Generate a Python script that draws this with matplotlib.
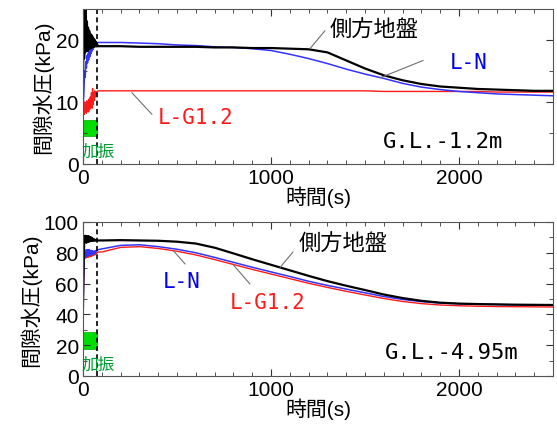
import numpy as np
import matplotlib
matplotlib.use('Agg')
import matplotlib.pyplot as plt
from matplotlib.ticker import MultipleLocator

plt.rcParams['font.family'] = ['Liberation Sans', 'Noto Sans CJK JP']

# time axis (s): shaking phase and dissipation phase
t_shake = [0, 3, 6, 9, 12, 15, 18, 21, 24, 27, 30, 33, 36, 39, 42, 45, 48,
           51, 54, 57, 60, 63, 66, 69, 72, 75, 80]
t_long = [100, 200, 300, 400, 500, 600, 700, 800, 900, 1000, 1100, 1200,
          1300, 1400, 1500, 1600, 1700, 1800, 1900, 2000, 2100, 2200, 2300,
          2400, 2500]

# G.L.-1.2m  pore water pressure (kPa)
up_side_shake = [11, 26, 17, 27, 18, 25, 18.5, 23, 18.2, 22, 18.5, 21.5, 18.6,
                 21, 18.7, 20.8, 18.8, 20.5, 18.9, 20.2, 18.9, 20, 19, 19.7,
                 19, 19.3, 19.0]
up_side_long = [19.0, 19.0, 18.9, 18.9, 18.9, 18.9, 18.8, 18.8, 18.7, 18.7,
                18.6, 18.5, 18.0, 16.7, 15.4, 14.3, 13.5, 12.9, 12.5, 12.3,
                12.1, 12.0, 11.9, 11.8, 11.8]
up_ln_shake = [8, 10.5, 13, 15, 14, 16.5, 15.5, 17.5, 16.3, 17.8, 16.8, 18.2,
               17.3, 18.5, 17.8, 18.8, 18.2, 19.0, 18.5, 19.2, 18.8, 19.3,
               19.1, 19.5, 19.3, 19.5, 19.6]
up_ln_long = [19.6, 19.6, 19.5, 19.4, 19.2, 19.1, 18.9, 18.8, 18.6, 18.3,
              17.7, 17.0, 16.2, 15.3, 14.5, 13.8, 13.0, 12.4, 12.0, 11.7,
              11.5, 11.3, 11.2, 11.1, 11.0]
up_lg_shake = [8.5, 9.5, 8, 10, 8.3, 9.6, 8.2, 10.2, 8.5, 9.8, 8.4, 10.5, 8.8,
               10.8, 9.2, 11.5, 9, 12.2, 9.6, 11.5, 10.2, 11.8, 10.8, 11.6,
               11.3, 11.7, 11.8]
up_lg_long = [11.8, 11.8, 11.8, 11.8, 11.8, 11.8, 11.8, 11.8, 11.8, 11.8,
              11.8, 11.8, 11.8, 11.8, 11.8, 11.7, 11.7, 11.7, 11.7, 11.7,
              11.7, 11.6, 11.6, 11.6, 11.6]

# G.L.-4.95m  pore water pressure (kPa)
lo_side_shake = [45, 70, 86, 91, 87, 91, 86.5, 90.5, 87, 90.8, 87.2, 90.5,
                 87.5, 90.2, 87.6, 89.8, 87.8, 89.2, 87.9, 88.8, 87.9, 88.5,
                 88, 88.3, 88, 88.1, 88]
lo_side_long = [88.0, 88.2, 88.0, 87.8, 87.2, 86.0, 83.3, 79.6, 75.8, 72.2,
                68.6, 65.0, 61.6, 58.6, 55.8, 52.9, 50.6, 48.8, 47.6, 47.0,
                46.7, 46.5, 46.3, 46.2, 46.1]
lo_ln_shake = [40, 62, 78, 82, 77, 81.5, 77.5, 82, 78, 81.8, 78.2, 82, 78.5,
               81.5, 78.6, 81.5, 79, 81.2, 79.2, 81, 79.5, 81.2, 80, 81.5, 81,
               81.8, 82]
lo_ln_long = [82.5, 84.8, 85.2, 84.0, 82.3, 80.0, 77.0, 73.8, 70.6, 67.6,
              64.6, 61.5, 58.8, 56.4, 54.0, 51.6, 49.7, 48.3, 47.4, 46.9,
              46.6, 46.4, 46.2, 46.1, 46.0]
lo_lg_shake = [42, 60, 76, 80, 76.5, 79.5, 76.8, 80, 77, 79.8, 77.2, 79.6,
               77.4, 79.5, 77.6, 79.4, 78, 79.5, 78.2, 79.4, 78.5, 79.6, 79,
               79.8, 79.6, 80.2, 80.5]
lo_lg_long = [80.5, 83.5, 84.0, 82.8, 81.0, 78.6, 75.6, 72.4, 69.2, 66.2,
              63.2, 60.2, 57.5, 55.0, 52.6, 50.3, 48.4, 47.0, 46.1, 45.6,
              45.3, 45.1, 45.0, 44.9, 44.8]

t_end_shake = 75          # end of shaking (dashed line)
depth_labels = ['G.L.-1.2m', 'G.L.-4.95m']

t_all = np.concatenate([t_shake, t_long])

fig = plt.figure(figsize=(5.57, 4.27), dpi=100)
ax1 = fig.add_axes([0.149, 0.6136, 0.844, 0.363])
ax2 = fig.add_axes([0.149, 0.1171, 0.844, 0.3607])

lead = dict(arrowstyle='-', color='#707070', lw=0.8, shrinkA=0, shrinkB=0)
mono = 'DejaVu Sans Mono'


def setup(ax, ymax, ymaj, ymin):
    ax.set_xlim(0, 2500)
    ax.set_ylim(0, ymax)
    ax.xaxis.set_major_locator(MultipleLocator(1000))
    ax.xaxis.set_minor_locator(MultipleLocator(100))
    ax.yaxis.set_major_locator(MultipleLocator(ymaj))
    ax.yaxis.set_minor_locator(MultipleLocator(ymin))
    ax.tick_params(which='both', direction='in', top=True, right=True,
                   labelsize=15, pad=3, color='#333333')
    ax.tick_params(which='major', length=5)
    ax.tick_params(which='minor', length=3)
    for s in ax.spines.values():
        s.set_color('#555555')
        s.set_linewidth(0.8)
    ax.set_xlabel('時間(s)', fontsize=15, labelpad=-1)
    ax.set_ylabel('間隙水圧(kPa)', fontsize=15, labelpad=2)


# --- upper panel ---
setup(ax1, 25, 10, 5)
ax1.plot(t_all, np.concatenate([up_lg_shake, up_lg_long]), color='#ff1a1a', lw=1.0)
ax1.plot(t_all, np.concatenate([up_ln_shake, up_ln_long]), color='#3333ff', lw=1.1)
ax1.plot(t_all, np.concatenate([up_side_shake, up_side_long]), color='black', lw=1.6)
ax1.axvline(t_end_shake, color='black', lw=1.2, ls=(0, (3, 2)))
ax1.fill_between([0, t_end_shake], 4.5, 7.1, color='#00dd00', ec='#00aa00', lw=0.5)
ax1.text(-10, 2.0, '加振', color='#009933', fontsize=12, va='center',
         ha='left', clip_on=False)

ax1.annotate('', xy=(1207, 18.6), xytext=(1287, 21.5), arrowprops=lead)
ax1.text(1314, 21.5, '側方地盤', fontsize=16, va='center', ha='left')
ax1.annotate('', xy=(1580, 13.9), xytext=(1809, 16.7), arrowprops=lead)
ax1.text(1952, 16.5, 'L-N', fontsize=15, color='#0000ee', family=mono,
         va='center', ha='left')
ax1.annotate('', xy=(260, 11.5), xytext=(367, 8.0), arrowprops=lead)
ax1.text(399, 7.6, 'L-G1.2', fontsize=15, color='#ff1a1a', family=mono,
         va='center', ha='left')
ax1.text(1596, 3.7, depth_labels[0], fontsize=16, family=mono,
         va='center', ha='left')

# --- lower panel ---
setup(ax2, 100, 20, 10)
ax2.plot(t_all, np.concatenate([lo_lg_shake, lo_lg_long]), color='#ff1a1a', lw=1.0)
ax2.plot(t_all, np.concatenate([lo_ln_shake, lo_ln_long]), color='#3333ff', lw=1.1)
ax2.plot(t_all, np.concatenate([lo_side_shake, lo_side_long]), color='black', lw=1.6)
ax2.axvline(t_end_shake, color='black', lw=1.2, ls=(0, (3, 2)))
ax2.fill_between([0, t_end_shake], 17.5, 28.5, color='#00dd00', ec='#00aa00', lw=0.5)
ax2.text(-10, 7.8, '加振', color='#009933', fontsize=12, va='center',
         ha='left', clip_on=False)

ax2.annotate('', xy=(1048, 70.5), xytext=(1117, 80.5), arrowprops=lead)
ax2.text(1144, 85.7, '側方地盤', fontsize=16, va='center', ha='left')
ax2.annotate('', xy=(480, 81.5), xytext=(543, 72.7), arrowprops=lead)
ax2.text(425, 61.7, 'L-N', fontsize=15, color='#0000ee', family=mono,
         va='center', ha='left')
ax2.annotate('', xy=(798, 72.4), xytext=(888, 59.7), arrowprops=lead)
ax2.text(782, 48, 'L-G1.2', fontsize=15, color='#ff1a1a', family=mono,
         va='center', ha='left')
ax2.text(1606, 15.6, depth_labels[1], fontsize=16, family=mono,
         va='center', ha='left')

fig.savefig('out.png', dpi=100)
